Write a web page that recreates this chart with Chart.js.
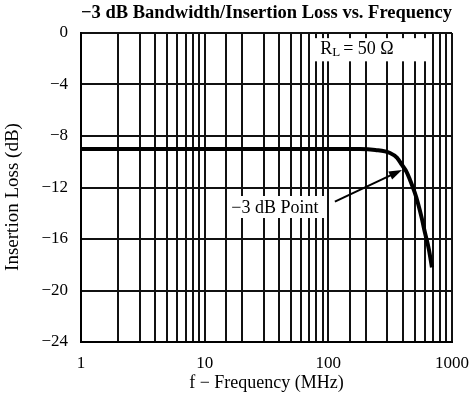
<!DOCTYPE html>
<html lang="en">
<head>
    <meta charset="UTF-8">
    <title>-3 dB Bandwidth/Insertion Loss vs. Frequency</title>
    <script src="https://cdn.jsdelivr.net/npm/chart.js"></script>
    <style>
        body {
            margin: 0;
            background-color: #fff;
        }

        #chart-container {
            position: relative;
            width: 470px;
            height: 401px;
        }
    </style>
</head>
<body>
    <div id="chart-container">
        <canvas id="lossChart"></canvas>
    </div>

    <script>
        // Frequency (MHz) and insertion loss (dB)
        const frequencies = [1, 3, 10, 30, 100, 180, 240, 315, 360, 394, 430, 457, 500, 530, 570, 604, 650, 688];
        const lossDb = [-9, -9, -9, -9, -9, -9, -9.08, -9.32, -9.7, -10.25, -10.8, -11.4, -12.4, -13.2, -14.4, -15.5, -16.8, -18.2];

        const xMajorLabels = [1, 10, 100, 1000];
        const yTicks = [0, -4, -8, -12, -16, -20, -24];

        const serif = "'Liberation Serif', 'Times New Roman', serif";

        // annotation anchors in data units (MHz, dB)
        const rlBox = { x1: 75, x2: 688, y1: -0.4, y2: -2.2, textX: 86, textY: -1.24 };
        const pointBox = { x1: 15.4, x2: 95.6, y1: -12.66, y2: -14.37, textX: 37, textY: -13.6 };
        const arrow = { fromX: 113, fromY: -13.1, toX: 394, toY: -10.64 };

        const annotations = {
            id: 'annotations',
            beforeDatasetsDraw(chart) {
                const ctx = chart.ctx;
                const xs = chart.scales.x, ys = chart.scales.y;
                ctx.save();
                ctx.fillStyle = '#fff';
                [rlBox, pointBox].forEach(b => {
                    const l = xs.getPixelForValue(b.x1), r = xs.getPixelForValue(b.x2);
                    const t = ys.getPixelForValue(b.y1), btm = ys.getPixelForValue(b.y2);
                    ctx.fillRect(l, t, r - l, btm - t);
                });

                ctx.fillStyle = '#000';
                ctx.textBaseline = 'middle';

                // R_L = 50 Ω
                let x = xs.getPixelForValue(rlBox.textX);
                let y = ys.getPixelForValue(rlBox.textY);
                ctx.font = '18px ' + serif;
                ctx.textAlign = 'left';
                ctx.fillText('R', x, y);
                x += ctx.measureText('R').width;
                ctx.font = '13px ' + serif;
                ctx.fillText('L', x, y + 4);
                x += ctx.measureText('L').width + 3;
                ctx.font = '18px ' + serif;
                ctx.fillText('= 50 Ω', x, y);

                // -3 dB Point
                ctx.textAlign = 'center';
                ctx.fillText('−3 dB Point', xs.getPixelForValue(pointBox.textX), ys.getPixelForValue(pointBox.textY));

                // arrow
                const x0 = xs.getPixelForValue(arrow.fromX), y0 = ys.getPixelForValue(arrow.fromY);
                const x1 = xs.getPixelForValue(arrow.toX), y1 = ys.getPixelForValue(arrow.toY);
                const ang = Math.atan2(y1 - y0, x1 - x0);
                ctx.strokeStyle = '#000';
                ctx.lineWidth = 2;
                ctx.beginPath();
                ctx.moveTo(x0, y0);
                ctx.lineTo(x1 - 8 * Math.cos(ang), y1 - 8 * Math.sin(ang));
                ctx.stroke();
                ctx.beginPath();
                ctx.moveTo(x1, y1);
                ctx.lineTo(x1 - 13 * Math.cos(ang) + 4.5 * Math.sin(ang), y1 - 13 * Math.sin(ang) - 4.5 * Math.cos(ang));
                ctx.lineTo(x1 - 13 * Math.cos(ang) - 4.5 * Math.sin(ang), y1 - 13 * Math.sin(ang) + 4.5 * Math.cos(ang));
                ctx.closePath();
                ctx.fill();
                ctx.restore();
            }
        };

        const ctx = document.getElementById('lossChart').getContext('2d');
        new Chart(ctx, {
            type: 'line',
            data: {
                labels: frequencies,
                datasets: [{
                    data: frequencies.map((f, i) => ({ x: f, y: lossDb[i] })),
                    borderColor: '#000',
                    borderWidth: 4,
                    pointRadius: 0,
                    cubicInterpolationMode: 'monotone',
                    fill: false
                }]
            },
            options: {
                responsive: true,
                maintainAspectRatio: false,
                animation: false,
                layout: { padding: { left: 0, right: 18, top: 0, bottom: 0 } },
                plugins: {
                    legend: { display: false },
                    tooltip: { enabled: false },
                    title: {
                        display: true,
                        text: '−3 dB Bandwidth/Insertion Loss vs. Frequency',
                        fullSize: false,
                        color: '#000',
                        font: { family: serif, size: 18.5, weight: 'bold' },
                        padding: { top: 2, bottom: 8.8 }
                    }
                },
                scales: {
                    x: {
                        type: 'logarithmic',
                        min: 1,
                        max: 1000,
                        afterFit(scale) {
                            scale.height = 59;
                            scale.paddingLeft = 0;
                            scale.paddingRight = 0;
                        },
                        border: { display: true, color: '#000', width: 2 },
                        grid: { color: '#111', lineWidth: 2, drawTicks: false },
                        ticks: {
                            autoSkip: false,
                            maxRotation: 0,
                            padding: 11,
                            color: '#000',
                            font: { family: serif, size: 17 },
                            callback: function(value) {
                                return xMajorLabels.includes(value) ? String(value) : '';
                            }
                        },
                        title: {
                            display: true,
                            text: 'f − Frequency (MHz)',
                            color: '#000',
                            font: { family: serif, size: 18 },
                            padding: { top: 0, bottom: 7.2 }
                        }
                    },
                    y: {
                        min: -24,
                        max: 0,
                        afterFit(scale) { scale.width = 81; },
                        border: { display: true, color: '#000', width: 2 },
                        grid: { color: '#111', lineWidth: 2, drawTicks: false },
                        afterBuildTicks(scale) {
                            scale.ticks = yTicks.map(v => ({ value: v }));
                        },
                        ticks: {
                            padding: 13,
                            color: '#000',
                            font: { family: serif, size: 17 },
                            callback: function(value) {
                                return value < 0 ? '−' + Math.abs(value) : String(value);
                            }
                        },
                        title: {
                            display: true,
                            // trailing spaces nudge the rotated title a bit lower, as in the original
                            text: 'Insertion Loss (dB)\u00a0\u00a0\u00a0\u00a0',
                            color: '#000',
                            font: { family: serif, size: 19 },
                            padding: { top: 1.6, bottom: 0 }
                        }
                    }
                }
            },
            plugins: [annotations]
        });
    </script>
</body>
</html>
